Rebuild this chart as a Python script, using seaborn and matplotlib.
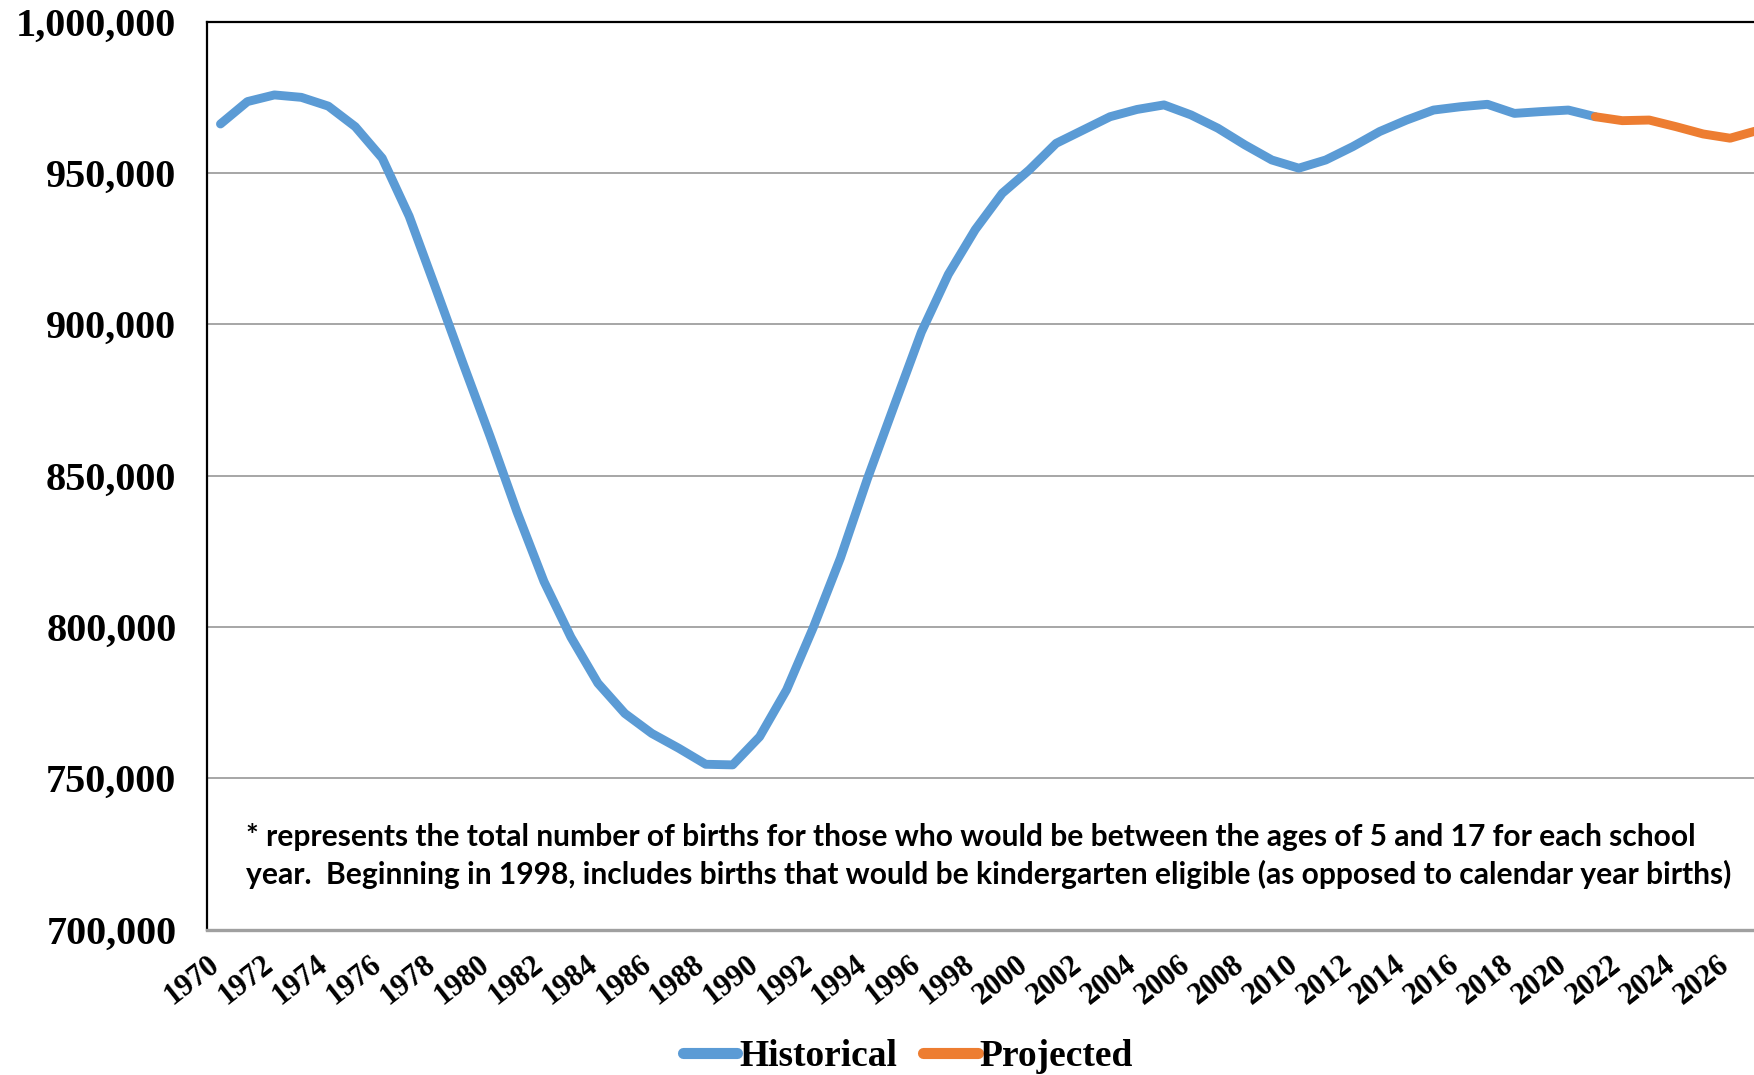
import matplotlib
matplotlib.use("Agg")
import matplotlib.pyplot as plt
from matplotlib.lines import Line2D
from matplotlib.ticker import FuncFormatter, FixedLocator
from matplotlib.transforms import ScaledTranslation
import seaborn as sns
import pandas as pd

# ---------------- data ----------------
hist_years = list(range(1970, 2022))
hist_births = [
    966200, 973600, 975800, 975000, 972100, 965300, 954900, 935700, 911500, 887000,
    863000, 838000, 815000, 796600, 781400, 771400, 764800, 759900, 754600, 754400,
    763700, 779200, 800000, 822800, 849000, 873300, 897400, 916500, 931300, 943300,
    951000, 959800, 964200, 968600, 971000, 972500, 969200, 964800, 959300, 954300,
    951600, 954300, 958700, 963700, 967500, 970800, 971900, 972700, 969700, 970300,
    970800, 968600,
]
proj_years = list(range(2021, 2028))
proj_births = [968600, 967300, 967500, 965300, 962900, 961500, 964000]

series_names = ["Historical", "Projected"]
series_colors = ["#5B9BD5", "#ED7D31"]
y_ticks = [700000, 750000, 800000, 850000, 900000, 950000, 1000000]
x_ticks = list(range(1970, 2027, 2))
note_lines = [
    "* represents the total number of births for those who would be between the ages of 5 and 17 for each school",
    "year.  Beginning in 1998, includes births that would be kindergarten eligible (as opposed to calendar year births)",
]

# ---------------- style ----------------
sns.set_theme(style="white")
plt.rcParams["font.family"] = ["Liberation Serif", "DejaVu Serif"]
plt.rcParams["text.color"] = "black"
plt.rcParams["xtick.color"] = "black"
plt.rcParams["ytick.color"] = "black"

df = pd.concat([
    pd.DataFrame({"Year": hist_years, "Births": hist_births, "Series": series_names[0]}),
    pd.DataFrame({"Year": proj_years, "Births": proj_births, "Series": series_names[1]}),
], ignore_index=True)

W, H = 1754, 1075
fig = plt.figure(figsize=(W / 100, H / 100), dpi=100)
fig.patch.set_facecolor("white")
ax_left, ax_top, ax_bottom, ax_right = 207, 21.7, 929.5, 1784
ax = fig.add_axes([ax_left / W, 1 - ax_bottom / H, (ax_right - ax_left) / W, (ax_bottom - ax_top) / H])

sns.lineplot(
    data=df, x="Year", y="Births", hue="Series",
    palette=dict(zip(series_names, series_colors)),
    estimator=None, sort=False, legend=False, ax=ax,
)
for ln in ax.lines:
    ln.set_linewidth(6.4)
    ln.set_solid_capstyle("round")
    ln.set_solid_joinstyle("round")

ax.set_xlim(1969.5, 2028)
ax.set_ylim(700000, 1000000)
ax.yaxis.set_major_locator(FixedLocator(y_ticks))
ax.xaxis.set_major_locator(FixedLocator(x_ticks))
ax.yaxis.set_major_formatter(FuncFormatter(lambda v, p: f"{v:,.0f}"))
ax.set_xlabel("")
ax.set_ylabel("")

ax.grid(False)
ax.yaxis.grid(True, color="#A6A6A6", linewidth=1.4)
ax.set_axisbelow(True)

for s in ("top", "left"):
    ax.spines[s].set_visible(True)
    ax.spines[s].set_color("black")
    ax.spines[s].set_linewidth(1.6)
ax.spines["bottom"].set_color("#A0A0A0")
ax.spines["bottom"].set_linewidth(2.4)
ax.spines["right"].set_visible(False)

ax.tick_params(axis="both", length=0)
ax.tick_params(axis="y", pad=22)
ax.tick_params(axis="x", pad=15)
for lab in ax.get_yticklabels():
    lab.set_fontsize(29)
    lab.set_fontweight("bold")
    lab.set_color("black")
offset = ScaledTranslation(-0.13, 0, fig.dpi_scale_trans)
for lab in ax.get_xticklabels():
    lab.set_fontsize(22)
    lab.set_fontweight("bold")
    lab.set_color("black")
    lab.set_rotation(38)
    lab.set_ha("right")
    lab.set_va("top")
    lab.set_rotation_mode("anchor")
    lab.set_transform(lab.get_transform() + offset)

# legend
handles = [Line2D([], [], color=c, linewidth=8, solid_capstyle="round") for c in series_colors]
leg = fig.legend(
    handles=handles, labels=series_names, loc="center",
    bbox_to_anchor=(908 / W, 1 - 1057 / H), ncol=2, frameon=False,
    prop=dict(family="Liberation Serif", weight="bold", size=27),
    handlelength=1.45, handletextpad=0.05, columnspacing=0.7, borderpad=0,
)
for t in leg.get_texts():
    t.set_color("black")

# note text, fitted to the reference width
note_y = [837, 874]
t1 = fig.text(246 / W, 1 - note_y[0] / H, note_lines[0], family=["Lato", "DejaVu Sans"],
              weight="bold", size=20, ha="left", va="center", color="black")
fig.canvas.draw()
w = t1.get_window_extent().width
size = 20 * 1452 / w
t1.set_fontsize(size)
fig.text(246 / W, 1 - note_y[1] / H, note_lines[1], family=["Lato", "DejaVu Sans"],
         weight="bold", size=size, ha="left", va="center", color="black")

fig.savefig("out.png", dpi=100, facecolor="white")
